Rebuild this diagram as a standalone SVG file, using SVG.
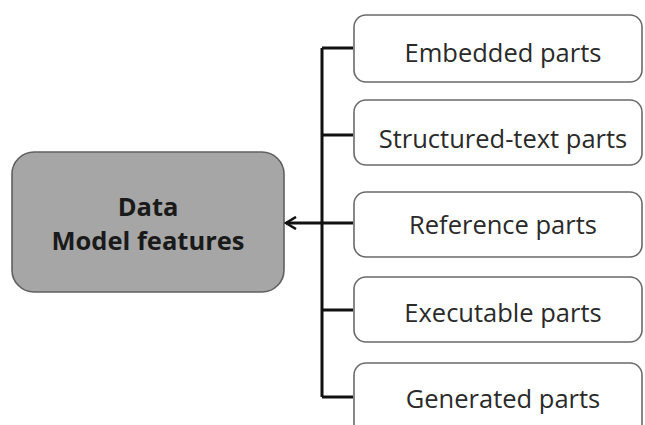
<svg xmlns="http://www.w3.org/2000/svg" width="645" height="425" viewBox="0 0 645 425">
<defs>
<style>
.part rect{fill:#ffffff;stroke:#6a6a6a;stroke-width:1.6}
.part text{font-family:"Open Sans","Liberation Sans",sans-serif;font-size:25.5px;fill:#2a2a2a;text-anchor:middle}
.main rect{fill:#a6a6a6;stroke:#606060;stroke-width:1.6}
.main text{font-family:"Open Sans","Liberation Sans",sans-serif;font-size:25.5px;font-weight:bold;fill:#1a1a1a;text-anchor:middle}
.conn{fill:none;stroke:#111;stroke-width:3}
</style>
<marker id="arr" viewBox="0 0 14 14" refX="12" refY="7" markerWidth="14" markerHeight="14" markerUnits="userSpaceOnUse" orient="auto">
<path d="M2,1 L12,7 L2,13" fill="none" stroke="#111" stroke-width="2.6"/>
</marker>
</defs>
<rect width="645" height="425" fill="#ffffff"/>
<g id="data-model-features" class="main">
<rect x="12" y="152" width="272" height="140" rx="22"/>
<text x="148" y="216">Data</text>
<text x="148" y="250">Model features</text>
</g>
<g id="embedded-parts" class="part">
<rect x="354" y="15" width="288" height="67" rx="12"/>
<text x="503" y="62">Embedded parts</text>
</g>
<g id="structured-text-parts" class="part">
<rect x="354" y="100" width="288" height="65" rx="12"/>
<text x="503" y="148">Structured-text parts</text>
</g>
<g id="reference-parts" class="part">
<rect x="354" y="192" width="288" height="65" rx="12"/>
<text x="503" y="234">Reference parts</text>
</g>
<g id="executable-parts" class="part">
<rect x="354" y="277" width="288" height="65" rx="12"/>
<text x="503" y="322">Executable parts</text>
</g>
<g id="generated-parts" class="part">
<rect x="354" y="363" width="288" height="75" rx="12"/>
<text x="503" y="408">Generated parts</text>
</g>
<g id="connectors">
<path class="conn" d="M322,48 V397"/>
<path class="conn" d="M322,48 H353 M322,135 H353 M322,223 H353 M322,310 H353 M322,397 H353"/>
<path class="conn" d="M322,223 H286" marker-end="url(#arr)"/>
</g>
</svg>
